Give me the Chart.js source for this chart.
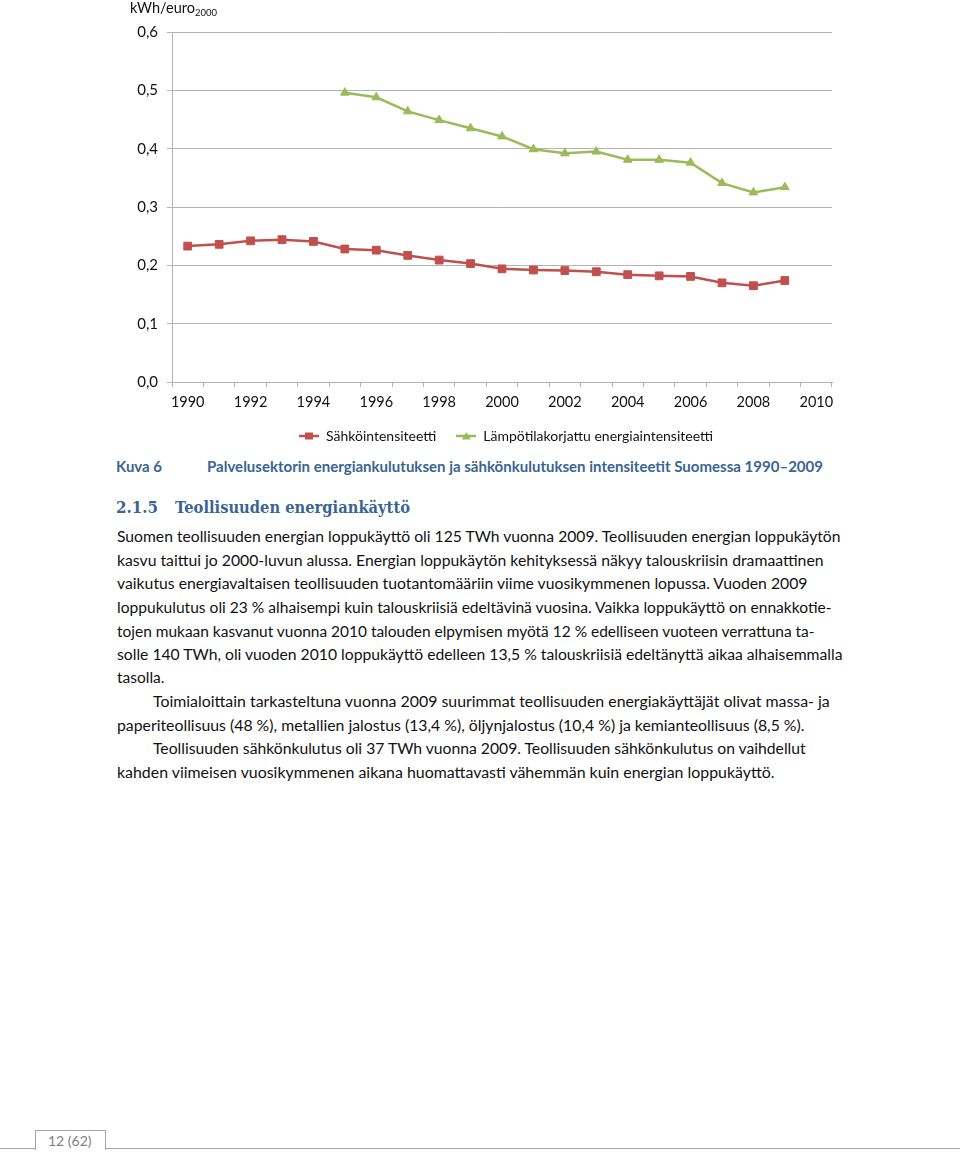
<!DOCTYPE html>
<html><head><meta charset="utf-8">
<script src="https://cdn.jsdelivr.net/npm/chart.js@4.4.0/dist/chart.umd.min.js"></script>
<style>
html,body{margin:0;padding:0;background:#fff;}
body{width:960px;height:1152px;position:relative;overflow:hidden;font-family:Lato,'Open Sans',sans-serif;color:#111;}
#chart{position:absolute;left:0;top:0;}
.t{position:absolute;white-space:nowrap;transform-origin:0 50%;line-height:20px;font-size:15.5px;}
.cap{color:#3a6592;font-weight:bold;font-size:14.5px;}
.hd{color:#3a6592;font-weight:bold;font-family:'DejaVu Serif',serif;font-size:16.5px;}
#ytitle{position:absolute;left:130px;top:0px;font-size:14.5px;line-height:16px;white-space:nowrap;color:#111;}
#ytitle sub{font-size:9.5px;vertical-align:-3px;}
#footbox{position:absolute;left:35px;top:1130px;width:69px;height:19px;border:1px solid #a6a6a6;border-bottom:none;background:#fff;}
#footline1{position:absolute;left:0;top:1148px;width:36px;height:1px;background:#a6a6a6;}
#footline2{position:absolute;left:105px;top:1148px;width:855px;height:1px;background:#a6a6a6;}
#foottext{position:absolute;left:48px;top:1131px;font-size:14px;line-height:20px;color:#7f7f7f;white-space:nowrap;}
</style>
</head>
<body>
<canvas id="chart" width="960" height="453"></canvas>
<div id="ytitle">kWh/euro<sub>2000</sub></div>

<div class="t cap" data-x="116" data-y="467" data-r="162">Kuva 6</div>
<div class="t cap" data-x="207" data-y="467" data-r="823">Palvelusektorin energiankulutuksen ja sähkönkulutuksen intensiteetit Suomessa 1990–2009</div>
<div class="t hd" data-x="116" data-y="508" data-r="158">2.1.5</div>
<div class="t hd" data-x="175" data-y="508" data-r="410">Teollisuuden energiankäyttö</div>

<div class="t" data-x="116.5" data-y="536" data-r="840">Suomen teollisuuden energian loppukäyttö oli 125 TWh vuonna 2009. Teollisuuden energian loppukäytön</div>
<div class="t" data-x="116.5" data-y="560" data-r="823">kasvu taittui jo 2000-luvun alussa. Energian loppukäytön kehityksessä näkyy talouskriisin dramaattinen</div>
<div class="t" data-x="116.5" data-y="583" data-r="807">vaikutus energiavaltaisen teollisuuden tuotantomääriin viime vuosikymmenen lopussa. Vuoden 2009</div>
<div class="t" data-x="116.5" data-y="607" data-r="831">loppukulutus oli 23 % alhaisempi kuin talouskriisiä edeltävinä vuosina. Vaikka loppukäyttö on ennakkotie-</div>
<div class="t" data-x="116.5" data-y="631" data-r="814">tojen mukaan kasvanut vuonna 2010 talouden elpymisen myötä 12 % edelliseen vuoteen verrattuna ta-</div>
<div class="t" data-x="116.5" data-y="654" data-r="842">solle 140 TWh, oli vuoden 2010 loppukäyttö edelleen 13,5 % talouskriisiä edeltänyttä aikaa alhaisemmalla</div>
<div class="t" data-x="116.5" data-y="677" data-r="164">tasolla.</div>
<div class="t" data-x="153.3" data-y="701" data-r="830">Toimialoittain tarkasteltuna vuonna 2009 suurimmat teollisuuden energiakäyttäjät olivat massa- ja</div>
<div class="t" data-x="116.5" data-y="725" data-r="804">paperiteollisuus (48 %), metallien jalostus (13,4 %), öljynjalostus (10,4 %) ja kemianteollisuus (8,5 %).</div>
<div class="t" data-x="153.3" data-y="748" data-r="806">Teollisuuden sähkönkulutus oli 37 TWh vuonna 2009. Teollisuuden sähkönkulutus on vaihdellut</div>
<div class="t" data-x="116.5" data-y="772" data-r="774">kahden viimeisen vuosikymmenen aikana huomattavasti vähemmän kuin energian loppukäyttö.</div>

<div id="footline1"></div><div id="footline2"></div>
<div id="footbox"></div>
<div id="foottext">12 (62)</div>

<script>
// ---- data ----
const years = ['1990','1991','1992','1993','1994','1995','1996','1997','1998','1999','2000',
               '2001','2002','2003','2004','2005','2006','2007','2008','2009','2010'];
const electricityIntensity = [0.233,0.236,0.242,0.244,0.241,0.228,0.226,0.217,0.209,0.203,0.194,
                              0.192,0.191,0.189,0.184,0.182,0.181,0.170,0.165,0.174,null];
const heatingCorrectedEnergyIntensity = [null,null,null,null,null,0.496,0.488,0.464,0.449,0.435,0.421,
                              0.399,0.392,0.395,0.381,0.381,0.376,0.341,0.325,0.334,null];
const seriesNames = ['Sähköintensiteetti','Lämpötilakorjattu energiaintensiteetti'];
const yMin = 0, yMax = 0.6, yStep = 0.1;

// text fitting
document.querySelectorAll('.t').forEach(el=>{
  const x=+el.dataset.x, y=+el.dataset.y, r=+el.dataset.r;
  el.style.left=x+'px'; el.style.top=(y-10)+'px';
  const w=el.getBoundingClientRect().width;
  if(r && w>0) el.style.transform='scaleX('+((r-x)/w)+')';
});

const RED='#c0504d', GREEN='#9bbb59', GRID='#b3b3b3';

function legendImg(color, style){
  const c=document.createElement('canvas'); c.width=20; c.height=10;
  const g=c.getContext('2d');
  g.strokeStyle=color; g.lineWidth=2.5;
  g.beginPath(); g.moveTo(0,5); g.lineTo(20,5); g.stroke();
  g.fillStyle=color;
  if(style==='rect'){ g.fillRect(6,1.5,8,7); }
  else { g.beginPath(); g.moveTo(10,1); g.lineTo(14.5,8.5); g.lineTo(5.5,8.5); g.closePath(); g.fill(); }
  return c;
}
const legendImgs=[legendImg(RED,'rect'), legendImg(GREEN,'tri')];

const legendShift={id:'legendShift', afterLayout(chart){ const l=chart.legend; if(l){ l.left+=4; l.right+=4; } }};

Chart.defaults.font.family="Lato, 'Open Sans', sans-serif";
new Chart(document.getElementById('chart'),{
  type:'line',
  data:{labels:years, datasets:[
    {label:seriesNames[0], data:electricityIntensity, borderColor:RED, backgroundColor:RED,
     borderWidth:2.5, pointStyle:'rect', pointRadius:5.5, pointBorderWidth:1, pointBorderColor:RED, tension:0, spanGaps:false},
    {label:seriesNames[1], data:heatingCorrectedEnergyIntensity, borderColor:GREEN, backgroundColor:GREEN,
     borderWidth:2.5, pointStyle:'triangle', pointRadius:5, pointBorderWidth:1, pointBorderColor:GREEN, tension:0, spanGaps:false}
  ]},
  options:{
    responsive:false, animation:false, devicePixelRatio:1,
    layout:{padding:{left:0,right:128,top:32,bottom:0}},
    plugins:{
      tooltip:{enabled:false},
      legend:{position:'bottom', fullSize:false,
        labels:{color:'#111', font:{size:14}, usePointStyle:true, pointStyleWidth:20, padding:20,
          generateLabels(chart){
            const items=Chart.defaults.plugins.legend.labels.generateLabels(chart);
            items.forEach((it,i)=>{ it.pointStyle=legendImgs[i]; });
            return items;
          }}}
    },
    scales:{
      x:{type:'category', offset:true,
        grid:{offset:true, drawOnChartArea:false, drawTicks:true, tickLength:5, color:GRID},
        border:{display:true, color:GRID, width:1},
        ticks:{autoSkip:false, maxRotation:0, padding:7, color:'#111', font:{size:14.5},
          callback:(v,i)=> (i%2===0 ? years[i] : '')},
        afterFit:(s)=>{ s.height=27; }
      },
      y:{min:yMin, max:yMax,
        grid:{color:GRID, tickLength:5, drawTicks:true},
        border:{display:true, color:GRID, width:1},
        ticks:{stepSize:yStep, padding:9, color:'#111', font:{size:15},
          callback:(v)=> Number(v).toFixed(1).replace('.',',')},
        afterFit:(s)=>{ s.width=172; }
      }
    }
  },
  plugins:[legendShift]
});
</script>
</body></html>
